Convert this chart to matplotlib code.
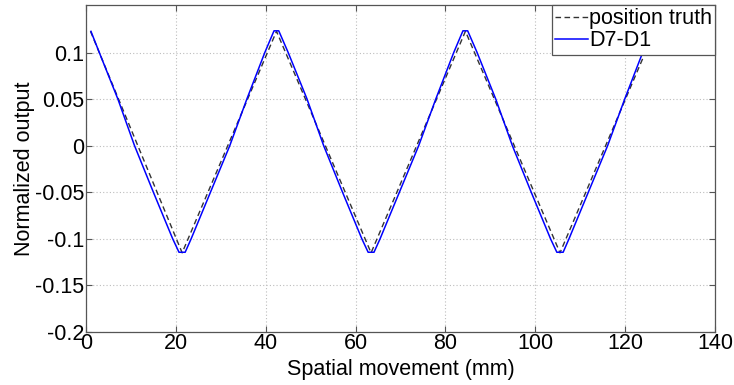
#!/usr/bin/env python
# Normalized output vs spatial movement (position truth and D7-D1)

import numpy as np
import matplotlib.pyplot as plt

plt.rcParams['font.family'] = ['Liberation Sans', 'DejaVu Sans']

# Data
#---------------------------------------------
# position truth (triangle vertices)
truth_x = [1.0, 21.4, 42.4, 63.45, 84.45, 105.5, 126.5]
truth_y = [0.1228, -0.115, 0.1228, -0.115, 0.1228, -0.115, 0.1228]

# D7-D1 measured signal
d71_x = [1.1, 2.96, 7.1, 10.8, 15.0, 19.3, 20.7, 22.07,
         23.4, 27.7, 32.0, 35.8, 39.8, 41.85, 42.9,
         45.0, 49.2, 52.9, 57.1, 61.4, 62.8, 64.1,
         65.45, 69.75, 74.05, 77.85, 81.85, 83.9, 84.95,
         87.05, 91.2, 94.9, 99.1, 103.4, 104.8, 106.2,
         107.5, 111.8, 116.1, 119.9, 123.9, 125.95]
d71_y = [0.1227, 0.100, 0.050, 0.000, -0.050, -0.100, -0.1144, -0.1144,
         -0.100, -0.050, 0.000, 0.050, 0.100, 0.1233, 0.1233,
         0.100, 0.050, 0.000, -0.050, -0.100, -0.1144, -0.1144,
         -0.100, -0.050, 0.000, 0.050, 0.100, 0.1233, 0.1233,
         0.100, 0.050, 0.000, -0.050, -0.100, -0.1144, -0.1144,
         -0.100, -0.050, 0.000, 0.050, 0.100, 0.1233]

xticks = [0, 20, 40, 60, 80, 100, 120, 140]
yticks = [-0.2, -0.15, -0.1, -0.05, 0, 0.05, 0.1]
yticklabels = ['-0.2', '-0.15', '-0.1', '-0.05', '0', '0.05', '0.1']

FS = 15.5

# Plot
#---------------------------------------------
fig = plt.figure(figsize=(7.34, 3.85), dpi=100)
ax = fig.add_axes([86/734, 53/385, 629/734, 327/385])

ax.plot(truth_x, truth_y, color='#333333', linestyle=(0, (4, 2.5)),
        linewidth=1.0, label='position truth')
ax.plot(d71_x, d71_y, color='#0000ff', linewidth=1.1, label='D7-D1')

ax.set_xlim(0, 140)
ax.set_ylim(-0.2, 0.151)
ax.set_xticks(xticks)
ax.set_yticks(yticks)
ax.set_yticklabels(yticklabels)
ax.tick_params(direction='in', length=4, width=0.8, color='#555555',
               labelsize=FS, top=True, right=True, pad=1)
for s in ax.spines.values():
    s.set_color('#555555')
    s.set_linewidth(0.9)

ax.grid(True, color='#bdbdbd', linestyle=(0, (1, 2)), linewidth=0.8)
ax.set_axisbelow(True)

ax.set_xlabel('Spatial movement (mm)', fontsize=FS, labelpad=3)
ax.set_ylabel('Normalized output', fontsize=FS, labelpad=0)

leg = ax.legend(loc='upper right', bbox_to_anchor=(1, 1), borderaxespad=0,
                fontsize=FS, handlelength=1.5, handletextpad=0.05,
                borderpad=0.15, labelspacing=0.05, fancybox=False,
                framealpha=1, edgecolor='#555555')
leg.get_frame().set_linewidth(0.9)

fig.savefig('out.png', dpi=100)
